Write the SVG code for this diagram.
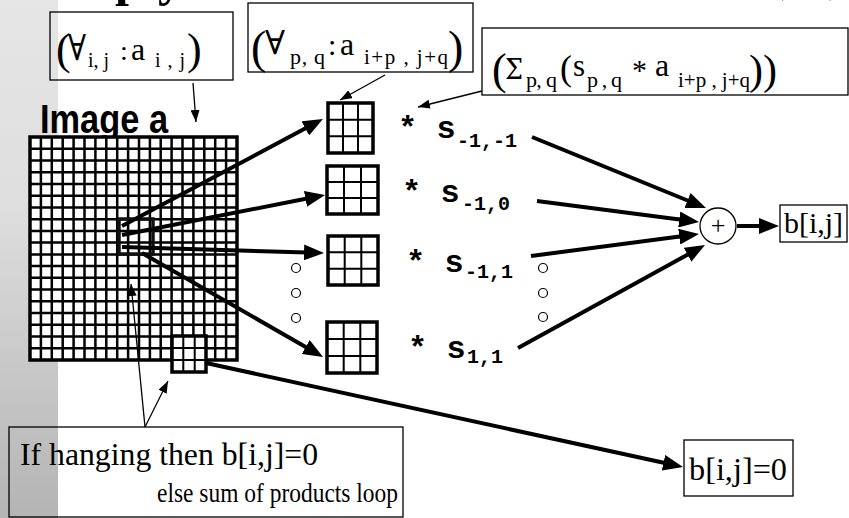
<svg xmlns="http://www.w3.org/2000/svg" width="849" height="518" viewBox="0 0 849 518">
<style>
.serif{font-family:"Liberation Serif","Times New Roman",serif;fill:#000}
.sym{font-family:"DejaVu Serif","Liberation Serif",serif;fill:#000}
.mono{font-family:"Liberation Mono","Courier New",monospace;font-weight:bold;fill:#000}
.box{fill:none;stroke:#000;stroke-width:1.3}
.thick{fill:none;stroke:#000;stroke-width:4}
.thin{fill:none;stroke:#000;stroke-width:1.3}
.cell{fill:#fff;stroke:#000;stroke-width:3.5}
.inner{fill:none;stroke:#000;stroke-width:2}
.dot{fill:#fff;stroke:#000;stroke-width:1.2}
</style>
<defs>
<linearGradient id="strip" x1="0" y1="0" x2="0" y2="1">
<stop offset="0" stop-color="#e6e6e6"/>
<stop offset="0.4" stop-color="#dedede"/>
<stop offset="1" stop-color="#b4b4b4"/>
</linearGradient>
<marker id="big" markerUnits="userSpaceOnUse" markerWidth="22" markerHeight="16" refX="12" refY="8" orient="auto">
<path d="M0,0 L20,8 L0,16 z" fill="#000"/>
</marker>
<marker id="small" markerUnits="userSpaceOnUse" markerWidth="13" markerHeight="9" refX="12" refY="4.5" orient="auto">
<path d="M0,0 L12,4.5 L0,9 z" fill="#000"/>
</marker>
</defs>
<rect x="0" y="0" width="849" height="518" fill="#fff"/>
<rect x="0" y="0" width="58" height="518" fill="url(#strip)"/>

<g id="title-fragment" class="serif" font-weight="bold" font-size="50">
<text x="115" y="-5">p</text>
<text x="158" y="-5">y</text>
<text x="768" y="-10">(</text>
<text x="828" y="-10">)</text>
</g>

<g id="image-a">
<text x="40" y="133" font-family="'Liberation Sans Narrow','Liberation Sans',Arial,sans-serif" font-size="40" font-weight="bold" textLength="128" lengthAdjust="spacingAndGlyphs">Image a</text>
<rect x="30" y="137" width="207" height="223" fill="#fff" stroke="none"/>
<path fill="none" stroke="#000" stroke-width="2.5" d="M40.9,137V360M51.8,137V360M62.7,137V360M73.6,137V360M84.5,137V360M95.4,137V360M106.3,137V360M117.2,137V360M128.1,137V360M139,137V360M149.9,137V360M160.7,137V360M171.6,137V360M182.5,137V360M193.4,137V360M204.3,137V360M215.2,137V360M226.1,137V360M30,148.7H237M30,160.5H237M30,172.2H237M30,183.9H237M30,195.7H237M30,207.4H237M30,219.2H237M30,230.9H237M30,242.6H237M30,254.4H237M30,266.1H237M30,277.8H237M30,289.6H237M30,301.3H237M30,313.1H237M30,324.8H237M30,336.5H237M30,348.3H237"/>
<rect x="30" y="137" width="207" height="223" fill="none" stroke="#000" stroke-width="3.5"/>
<rect x="119" y="219" width="34" height="35" fill="none" stroke="#111" stroke-width="3.5"/>
</g>

<g id="edge-window">
<rect x="172" y="336" width="34" height="36" fill="#fff" stroke="none"/>
<path class="inner" d="M183.3,336V372M194.7,336V372M172,348H206M172,360H206"/>
<rect x="172" y="336" width="34" height="36" fill="none" stroke="#000" stroke-width="3.5"/>
</g>

<g id="box-a">
<rect class="box" x="50" y="12" width="183" height="68"/>
<text class="serif" x="56" y="64" font-size="44">(</text>
<text class="sym" x="68" y="60" font-size="36" textLength="18" lengthAdjust="spacingAndGlyphs">∀</text>
<text class="serif" x="88" y="67" font-size="20">i, j</text>
<text class="serif" x="120" y="60" font-size="28">:</text>
<text class="serif" x="131" y="60" font-size="32">a</text>
<text class="serif" x="155" y="67" font-size="20" textLength="30" lengthAdjust="spacing">i , j</text>
<text class="serif" x="187" y="64" font-size="44">)</text>
</g>

<g id="box-b">
<rect class="box" x="248" y="3" width="225" height="69"/>
<text class="serif" x="251" y="63" font-size="46">(</text>
<text class="sym" x="265" y="54" font-size="33" textLength="20" lengthAdjust="spacingAndGlyphs">∀</text>
<text class="serif" x="290" y="64" font-size="22" textLength="35" lengthAdjust="spacing">p, q</text>
<text class="serif" x="328" y="55" font-size="30">:</text>
<text class="serif" x="340" y="55" font-size="32">a</text>
<text class="serif" x="364" y="64" font-size="21" textLength="84" lengthAdjust="spacing">i+p , j+q</text>
<text class="serif" x="448" y="63" font-size="46">)</text>
</g>

<g id="box-c">
<rect class="box" x="482" y="28" width="366" height="67"/>
<text class="serif" x="492" y="84" font-size="44">(</text>
<text class="sym" x="505" y="79" font-size="28" textLength="18" lengthAdjust="spacingAndGlyphs">Σ</text>
<text class="serif" x="526" y="87" font-size="22" textLength="31" lengthAdjust="spacing">p, q</text>
<text class="serif" x="560" y="80" font-size="36">(</text>
<text class="serif" x="573" y="76" font-size="31">s</text>
<text class="serif" x="587" y="87" font-size="22" textLength="35" lengthAdjust="spacing">p , q</text>
<text class="serif" x="632" y="80" font-size="30">*</text>
<text class="serif" x="655" y="76" font-size="32">a</text>
<text class="serif" x="678" y="87" font-size="21" textLength="72" lengthAdjust="spacing">i+p , j+q</text>
<text class="serif" x="749" y="84" font-size="42">))</text>
</g>

<g id="m1">
<rect class="cell" x="328" y="103" width="45" height="50"/>
<path class="inner" d="M343,103V153M358,103V153M328,119.7H373M328,136.3H373"/>
</g>
<g id="m2">
<rect class="cell" x="327" y="166" width="51" height="48"/>
<path class="inner" d="M344,166V214M361,166V214M327,182H378M327,198H378"/>
</g>
<g id="m3">
<rect class="cell" x="328" y="236" width="50" height="49"/>
<path class="inner" d="M344.7,236V285M361.3,236V285M328,252.3H378M328,268.7H378"/>
</g>
<g id="m4">
<rect class="cell" x="327" y="322" width="50" height="51"/>
<path class="inner" d="M343.7,322V373M360.3,322V373M327,339H377M327,356H377"/>
</g>

<g id="labels" class="mono">
<text x="398" y="138" font-size="32">* s</text>
<text x="457" y="147" font-size="20">-1,-1</text>
<text x="402" y="202" font-size="32">* s</text>
<text x="462" y="210" font-size="20">-1,0</text>
<text x="406" y="272" font-size="32">* s</text>
<text x="465" y="278" font-size="20">-1,1</text>
<text x="408" y="358" font-size="32">* s</text>
<text x="467" y="363" font-size="20">1,1</text>
</g>

<g id="ellipsis-dots">
<circle class="dot" cx="296" cy="268" r="4.5"/>
<circle class="dot" cx="296" cy="293" r="4.5"/>
<circle class="dot" cx="296" cy="318" r="4.5"/>
<circle class="dot" cx="543" cy="268" r="4.5"/>
<circle class="dot" cx="543" cy="293" r="4.5"/>
<circle class="dot" cx="543" cy="317" r="4.5"/>
</g>

<g id="plus">
<circle cx="718" cy="226" r="18" fill="#fff" stroke="#000" stroke-width="1.3"/>
<text class="serif" x="718" y="234" font-size="26" text-anchor="middle">+</text>
</g>

<g id="out-b">
<rect class="box" x="780" y="205" width="67" height="37"/>
<text class="serif" x="784" y="233" font-size="30" textLength="59" lengthAdjust="spacingAndGlyphs">b[i,j]</text>
</g>

<g id="out-zero">
<rect class="box" x="684" y="440" width="109" height="56"/>
<text class="serif" x="689" y="480" font-size="32" textLength="98" lengthAdjust="spacingAndGlyphs">b[i,j]=0</text>
</g>

<g id="note">
<rect class="box" x="9" y="427" width="394" height="90"/>
<text class="serif" x="20" y="465" font-size="32" textLength="298" lengthAdjust="spacingAndGlyphs">If hanging then b[i,j]=0</text>
<text class="serif" x="157" y="502" font-size="27" textLength="241" lengthAdjust="spacingAndGlyphs">else sum of products loop</text>
</g>

<g id="connectors">
<path class="thick" marker-end="url(#big)" d="M122,226L315.9,122.8"/>
<path class="thick" marker-end="url(#big)" d="M122,235L317.2,196.5"/>
<path class="thick" marker-end="url(#big)" d="M122,247L316,252.8"/>
<path class="thick" marker-end="url(#big)" d="M142,253L316.1,353"/>
<path class="thick" marker-end="url(#big)" d="M532,137L698.6,205"/>
<path class="thick" marker-end="url(#big)" d="M537,201L691.1,221"/>
<path class="thick" marker-end="url(#big)" d="M531,256L691.1,235"/>
<path class="thick" marker-end="url(#big)" d="M518,348L698,248.9"/>
<path class="thick" marker-end="url(#big)" d="M737,226L771,226"/>
<path class="thick" marker-end="url(#big)" d="M206,363L675.2,465.3"/>
<path class="thin" marker-end="url(#small)" d="M193,83L196,122"/>
<path class="thin" marker-end="url(#small)" d="M385,75L340,100"/>
<path class="thin" marker-end="url(#small)" d="M482,91L418,107"/>
<path class="thin" marker-end="url(#small)" d="M145,427L131,284"/>
<path class="thin" marker-end="url(#small)" d="M145,427L168,381"/>
</g>
</svg>
